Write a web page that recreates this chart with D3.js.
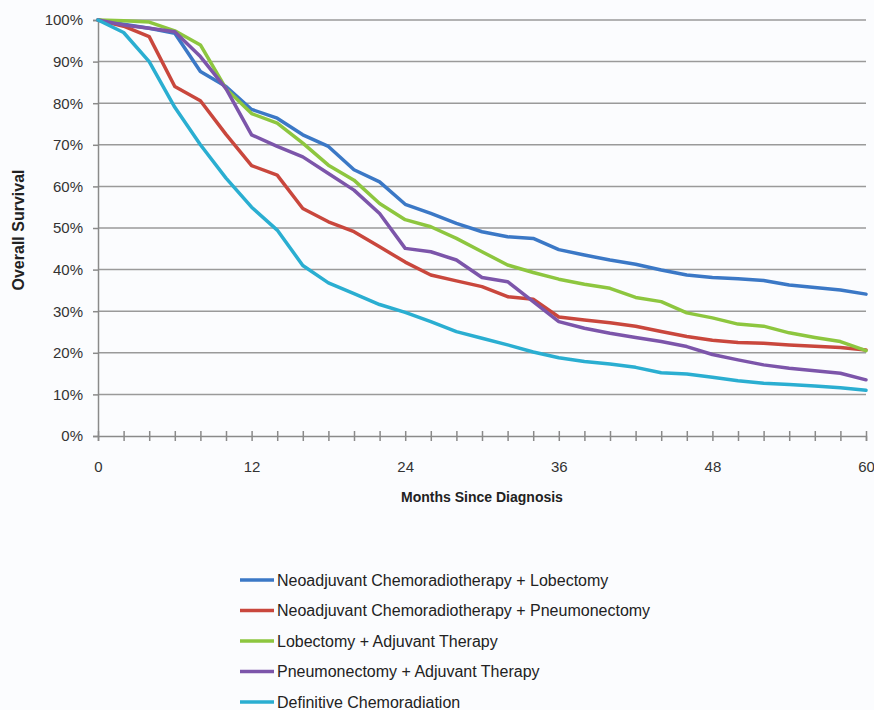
<!DOCTYPE html>
<html><head><meta charset="utf-8">
<script src="https://cdn.jsdelivr.net/npm/d3@7"></script>
<style>
html,body{margin:0;padding:0;background:#fbfcfe;overflow:hidden;}
svg{display:block;}
</style></head>
<body>
<svg id="chart" width="874" height="710"></svg>
<script>
const months = [0,2,4,6,8,10,12,14,16,18,20,22,24,26,28,30,32,34,36,38,40,42,44,46,48,50,52,54,56,58,60];
const seriesNames = [
  "Neoadjuvant Chemoradiotherapy + Lobectomy",
  "Neoadjuvant Chemoradiotherapy + Pneumonectomy",
  "Lobectomy + Adjuvant Therapy",
  "Pneumonectomy + Adjuvant Therapy",
  "Definitive Chemoradiation"
];
const neoLobectomy = [100,99,98,96.8,87.6,84,78.5,76.4,72.4,69.6,64,61.1,55.7,53.5,51.1,49.1,47.9,47.5,44.8,43.5,42.3,41.3,39.9,38.7,38.1,37.8,37.4,36.3,35.7,35.1,34.1];
const neoPneumonectomy = [100,98.5,96,84,80.6,72.5,65,62.7,54.7,51.5,49.1,45.5,41.8,38.7,37.3,35.9,33.5,32.9,28.6,27.9,27.2,26.4,25.1,23.9,23,22.5,22.3,21.9,21.6,21.3,20.7];
const lobAdjuvant = [100,99.8,99.5,97.4,94,83.5,77.5,75.2,70.4,65.1,61.5,55.9,52,50.3,47.5,44.3,41.1,39.3,37.7,36.5,35.5,33.3,32.3,29.6,28.4,26.9,26.4,24.8,23.7,22.7,20.5];
const pneuAdjuvant = [100,98.8,98,97.2,91.2,83.5,72.4,69.6,67.1,63.1,59.1,53.5,45.1,44.3,42.3,38.1,37.1,32.3,27.5,25.9,24.7,23.7,22.7,21.5,19.6,18.3,17.1,16.3,15.7,15.1,13.5];
const definitiveCR = [100,97,90,79,70,62,55,49.5,41,36.8,34.2,31.6,29.7,27.5,25.1,23.5,21.9,20.2,18.8,17.9,17.3,16.5,15.2,14.9,14.1,13.3,12.7,12.4,12.0,11.6,11.0];
const yTicks = [0,10,20,30,40,50,60,70,80,90,100];
const xLabelTicks = [0,12,24,36,48,60];
const colors = ["#3b78c6","#c9473d","#8dc63f","#7c55aa","#2aaed1"];

const seriesValues = [neoLobectomy, neoPneumonectomy, lobAdjuvant, pneuAdjuvant, definitiveCR];

const svg = d3.select("#chart");
const x = d3.scaleLinear().domain([0,60]).range([98,866]);
const y = d3.scaleLinear().domain([0,100]).range([436,20]);
const font = "'Liberation Sans', Arial, sans-serif";

// gridlines
svg.append("g").selectAll("line").data(yTicks.filter(d=>d>0)).join("line")
  .attr("x1", x(0)).attr("x2", x(60))
  .attr("y1", d=>y(d)).attr("y2", d=>y(d))
  .attr("stroke", "#9a9a9a").attr("stroke-width", 1.5);

// y axis
const yAxis = svg.append("g").attr("transform", `translate(${x(0)},0)`)
  .call(d3.axisLeft(y).tickValues(yTicks).tickSize(5).tickPadding(10).tickFormat(d=>d+"%"));
yAxis.select(".domain").attr("stroke","#8a8a8a").attr("stroke-width",1.5);
yAxis.selectAll(".tick line").attr("stroke","#8a8a8a").attr("stroke-width",1.5);
yAxis.selectAll("text").attr("font-family",font).attr("font-size",15).attr("fill","#333");

// x axis with crossing ticks
const xAxis = svg.append("g").attr("transform", `translate(0,${y(0)})`)
  .call(d3.axisBottom(x).tickValues(months).tickSize(5).tickPadding(20)
    .tickFormat(d => xLabelTicks.includes(d) ? String(d) : ""));
xAxis.select(".domain").attr("stroke","#8a8a8a").attr("stroke-width",1.5);
xAxis.selectAll(".tick line").attr("y1",-5).attr("y2",5).attr("stroke","#8a8a8a").attr("stroke-width",1.5);
xAxis.selectAll("text").attr("font-family",font).attr("font-size",15).attr("fill","#333");

// lines
const line = d3.line().x((d,i)=>x(months[i])).y(d=>y(d));
svg.append("g").selectAll("path").data(seriesValues).join("path")
  .attr("d", d=>line(d))
  .attr("fill","none")
  .attr("stroke",(d,i)=>colors[i])
  .attr("stroke-width",3.5)
  .attr("stroke-linejoin","round")
  .attr("stroke-linecap","round");

// axis titles
svg.append("text").attr("transform","translate(24,230) rotate(-90)")
  .attr("text-anchor","middle").attr("font-family",font).attr("font-weight","bold")
  .attr("font-size",16).attr("fill","#222").text("Overall Survival");
svg.append("text").attr("x",482).attr("y",502)
  .attr("text-anchor","middle").attr("font-family",font).attr("font-weight","bold")
  .attr("font-size",14).attr("fill","#222").text("Months Since Diagnosis");

// legend
const leg = svg.append("g").selectAll("g").data(seriesNames).join("g")
  .attr("transform",(d,i)=>`translate(240,${580 + i*30.5})`);
leg.append("line").attr("x1",0).attr("x2",34).attr("y1",0).attr("y2",0)
  .attr("stroke",(d,i)=>colors[i]).attr("stroke-width",3.5);
leg.append("text").attr("x",37).attr("y",5.5)
  .attr("font-family",font).attr("font-size",16).attr("fill","#222").text(d=>d);
</script>
</body></html>
